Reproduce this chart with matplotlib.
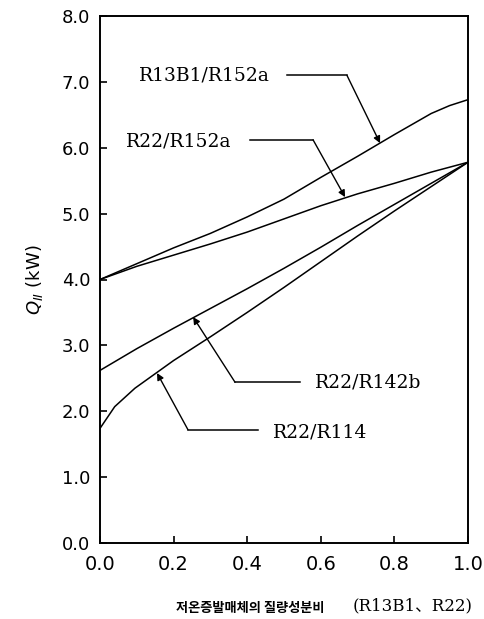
import matplotlib
matplotlib.use("Agg")
import matplotlib.pyplot as plt

x13 = [0.0, 0.1, 0.2, 0.3, 0.4, 0.5, 0.6, 0.7, 0.8, 0.9, 0.95, 1.0]
r13b1_r152a = [4.00, 4.24, 4.48, 4.70, 4.95, 5.22, 5.55, 5.87, 6.20, 6.52, 6.64, 6.73]
x = [0.0, 0.1, 0.2, 0.3, 0.4, 0.5, 0.6, 0.7, 0.8, 0.9, 1.0]
r22_r152a = [4.00, 4.20, 4.37, 4.54, 4.72, 4.92, 5.12, 5.30, 5.46, 5.63, 5.78]
r22_r142b = [2.62, 2.95, 3.26, 3.56, 3.86, 4.17, 4.49, 4.82, 5.14, 5.46, 5.78]
x114 = [0.0, 0.04, 0.095, 0.15, 0.2, 0.3, 0.4, 0.5, 0.6, 0.7, 0.8, 0.9, 1.0]
r22_r114 = [1.74, 2.07, 2.35, 2.57, 2.77, 3.13, 3.50, 3.88, 4.27, 4.66, 5.04, 5.41, 5.78]

xticks = [0.0, 0.2, 0.4, 0.6, 0.8, 1.0]
yticks = [0.0, 1.0, 2.0, 3.0, 4.0, 5.0, 6.0, 7.0, 8.0]

fig = plt.figure(figsize=(4.84, 6.19), dpi=100)
ax = fig.add_axes([100/484, 76/619, 368/484, 527/619])

for yy, xx in [(r13b1_r152a, x13), (r22_r152a, x), (r22_r142b, x), (r22_r114, x114)]:
    ax.plot(xx, yy, color="black", lw=1.1)

ax.set_xlim(0, 1)
ax.set_ylim(0, 8)
ax.set_xticks(xticks)
ax.set_yticks(yticks)
ax.set_xticklabels([f"{v:.1f}" for v in xticks], fontsize=14)
ax.set_yticklabels([f"{v:.1f}" for v in yticks], fontsize=13)
ax.tick_params(direction="in", length=5, width=1.2, pad=7)
ax.tick_params(axis="x", pad=9)
for s in ax.spines.values():
    s.set_linewidth(1.4)

ax.set_ylabel("$Q_{II}$ (kW)", fontsize=13, labelpad=12)

serif = dict(family="DejaVu Serif", fontsize=13.5)
ann = [
    ("R13B1/R152a", (0.285, 7.10), (0.508, 0.671, 7.10), (0.761, 6.07)),
    ("R22/R152a", (0.215, 6.10), (0.408, 0.579, 6.12), (0.666, 5.25)),
    ("R22/R142b", (0.728, 2.43), (0.543, 0.367, 2.44), (0.253, 3.43)),
    ("R22/R114", (0.598, 1.68), (0.429, 0.239, 1.72), (0.155, 2.58)),
]
for label, tpos, seg, tip in ann:
    ax.text(tpos[0], tpos[1], label, ha="center", va="center", **serif)
    ax.plot([seg[0], seg[1]], [seg[2], seg[2]], color="black", lw=1.1)
    ax.annotate("", xy=tip, xytext=(seg[1], seg[2]),
                arrowprops=dict(arrowstyle="-|>", color="black", lw=1.0,
                                mutation_scale=10, shrinkA=0, shrinkB=0))

fig.text(250/484, 1 - 608/619, "저온증발매체의 질량성분비", family="Noto Sans CJK KR",
         fontsize=9.5, ha="center", va="center", fontweight="bold")
fig.text(413/484, 1 - 606/619, "(R13B1、R22)", family=["DejaVu Serif", "Noto Sans CJK KR"],
         fontsize=12, ha="center", va="center")

fig.savefig("out.png", dpi=100)
